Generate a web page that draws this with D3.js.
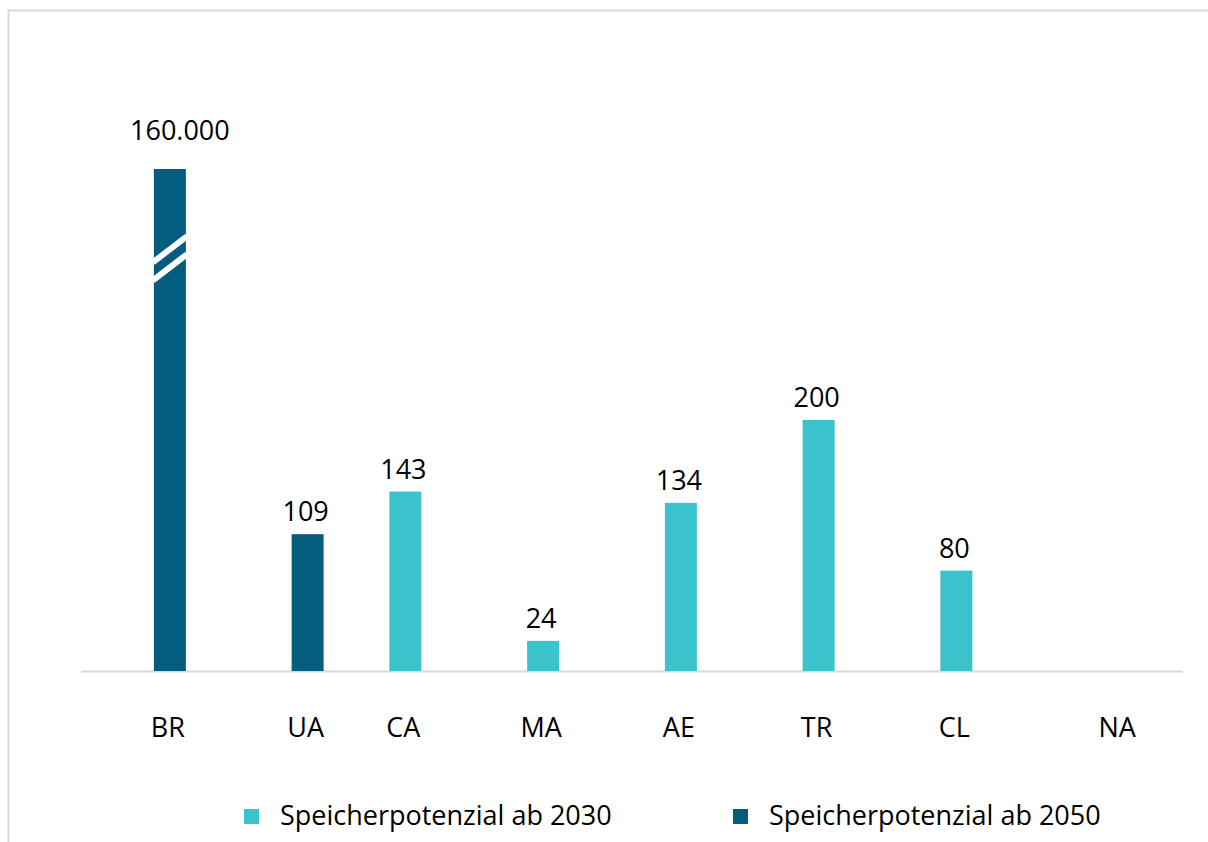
<html>
<head>
<script src="https://d3js.org/d3.v7.min.js"></script>
<style>
  body { margin: 0; background: #fff; }
  text { font-family: "Segoe UI", "Open Sans", "Noto Sans", sans-serif; fill: #000; }
</style>
</head>
<body>
<div id="chart"></div>
<script>
// categories (country codes) and the two series
const categories = ["BR", "UA", "CA", "MA", "AE", "TR", "CL", "NA"];
const series = ["Speicherpotenzial ab 2030", "Speicherpotenzial ab 2050"];
const values2030 = [null, null, 143, 24, 134, 200, 80, null];
const values2050 = [160000, 109, null, null, null, null, null, null];
const colors = ["#3bc3cd", "#045c7e"];

// bars above this value are cut with a break mark
const cap = 400;

const W = 1208, H = 842;
const svg = d3.select("#chart").append("svg")
  .attr("width", W).attr("height", H);

// light frame (top + left visible)
svg.append("rect")
  .attr("x", 8.5).attr("y", 10.5)
  .attr("width", W + 20).attr("height", H + 20)
  .attr("fill", "none").attr("stroke", "#d9d9d9").attr("stroke-width", 2);

const x = d3.scaleBand().domain(categories).range([81, 1183]).padding(0);
const sub = d3.scalePoint().domain(series).range([-20, 20]);
const y = d3.scaleLinear().domain([0, cap]).range([671, 169]);
const barW = 32;
const fmt = d3.formatLocale({ decimal: ",", thousands: ".", grouping: [3], currency: ["", "€"] }).format(",d");

// flatten to bar records
const bars = [];
categories.forEach((c, i) => {
  [values2030[i], values2050[i]].forEach((v, s) => {
    if (v != null) bars.push({ cat: c, s: series[s], v: v, color: colors[s] });
  });
});
const barX = d => x(d.cat) + x.bandwidth() / 2 + sub(d.s);

// axis line
svg.append("line")
  .attr("x1", x.range()[0]).attr("x2", x.range()[1])
  .attr("y1", y(0) + 0.5).attr("y2", y(0) + 0.5)
  .attr("stroke", "#d9d9d9").attr("stroke-width", 2);

svg.selectAll("rect.bar")
  .data(bars)
  .enter()
  .append("rect")
  .attr("class", "bar")
  .attr("x", d => barX(d) - barW / 2)
  .attr("y", d => y(Math.min(d.v, cap)))
  .attr("width", barW)
  .attr("height", d => y(0) - y(Math.min(d.v, cap)))
  .attr("fill", d => d.color);

// break marks on capped bars
bars.filter(d => d.v > cap).forEach(d => {
  const cx = barX(d);
  const yb = y(cap * 0.84);
  [0, 18].forEach(off => {
    svg.append("line")
      .attr("x1", cx - barW / 2 - 1).attr("y1", yb + off + 13)
      .attr("x2", cx + barW / 2 + 1).attr("y2", yb + off - 13)
      .attr("stroke", "#fff").attr("stroke-width", 6);
  });
});

// value labels (label of a cut bar sits a bit higher and to the right)
svg.selectAll("text.val")
  .data(bars)
  .enter()
  .append("text")
  .attr("class", "val")
  .attr("x", d => barX(d) + (d.v > cap ? 10 : -2))
  .attr("y", d => y(Math.min(d.v, cap)) - (d.v > cap ? 29 : 13))
  .attr("text-anchor", "middle")
  .style("font-size", "27px")
  .text(d => fmt(d.v));

// category labels, centred under their bar when there is one
svg.selectAll("text.cat")
  .data(categories)
  .enter()
  .append("text")
  .attr("class", "cat")
  .attr("x", c => {
    const b = bars.find(d => d.cat === c);
    return b ? barX(b) - 2 : x(c) + x.bandwidth() / 2 + 3;
  })
  .attr("y", 737)
  .attr("text-anchor", "middle")
  .style("font-size", "27px")
  .text(c => c);

// legend
const legX = [244, 733];
series.forEach((s, i) => {
  svg.append("rect")
    .attr("x", legX[i]).attr("y", 809)
    .attr("width", 15).attr("height", 15)
    .attr("fill", colors[i]);
  svg.append("text")
    .attr("x", legX[i] + 36).attr("y", 825)
    .style("font-size", "27px")
    .text(s);
});
</script>
</body>
</html>
